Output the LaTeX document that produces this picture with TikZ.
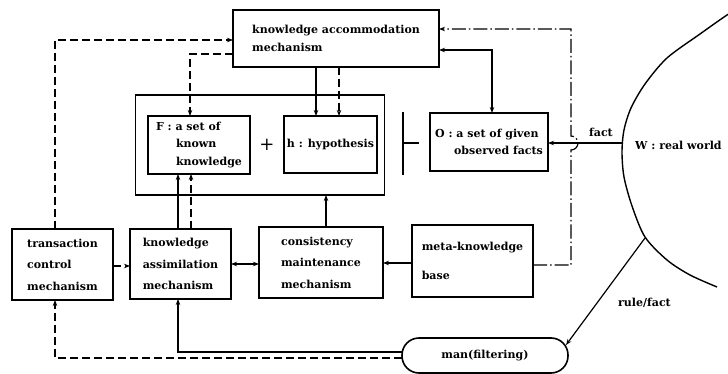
\documentclass[tikz,border=0pt]{standalone}
\usepackage{fontspec}
\setmainfont{DejaVu Serif}
\usetikzlibrary{arrows.meta}
\begin{document}
\begin{tikzpicture}[x=1pt,y=-1pt,
  box/.style={draw, line width=1.6pt, inner sep=0pt, outer sep=0pt, align=left, font=\fontsize{11}{21.5}\selectfont\bfseries},
  arr/.style={line width=1.2pt, -{Stealth[length=6pt,width=4.5pt]}},
  biarr/.style={line width=1.2pt, {Stealth[length=6pt,width=4.5pt]}-{Stealth[length=6pt,width=4.5pt]}},
  dsh/.style={dash pattern=on 8pt off 4pt},
  dshdot/.style={dash pattern=on 14pt off 3pt on 1.5pt off 3pt},
  lbl/.style={inner sep=0pt, font=\fontsize{11}{13}\selectfont\bfseries}]
\clip (0,0) rectangle (728,374);
\fill[white] (0,0) rectangle (728,374);

% boxes
\node[box, minimum width=206pt, minimum height=57pt, font=\fontsize{11}{18}\selectfont\bfseries] (KAM) at (336,38.5) {knowledge accommodation\\mechanism};
\node[box, minimum width=249pt, minimum height=100pt] (kb) at (260,145) {};
\node[box, minimum width=102pt, minimum height=58pt, font=\fontsize{11}{17.5}\selectfont\bfseries] (F) at (199,145) {F : a set of\\\hspace*{20pt}known\\\hspace*{20pt}knowledge};
\node[box, minimum width=93pt, minimum height=57pt] (h) at (330.5,144.5) {h : hypothesis};
\node[lbl, font=\fontsize{18}{20}\selectfont] (plus) at (267,145) {+};
\node[box, minimum width=118pt, minimum height=58pt, font=\fontsize{11}{16.5}\selectfont\bfseries] (O) at (489,142) {O : a set of given\\\hspace*{19pt}observed facts};
\node[box, minimum width=101pt, minimum height=71pt] (TCM) at (62.5,264.5) {transaction\\control\\mechanism};
\node[box, minimum width=101pt, minimum height=70pt] (KAsM) at (180.5,264) {knowledge\\assimilation\\mechanism};
\node[box, minimum width=124pt, minimum height=71pt] (CMM) at (321,262.5) {consistency\\maintenance\\mechanism};
\node[box, minimum width=121pt, minimum height=72pt, font=\fontsize{11}{29}\selectfont\bfseries] (meta) at (472.5,261) {meta-knowledge\\base};
\node[box, rounded corners=17pt, minimum width=166pt, minimum height=35pt] (man) at (485,355.5) {man(filtering)};

% turnstile
\draw[line width=1.8pt] (403,112) -- (403,175);
\draw[line width=1.5pt] (403,143) -- (419,143);

% real world
\draw[line width=1.4pt] plot[smooth, tension=0.5] coordinates {(745,4) (727,15) (700,34) (667,58) (645,84) (631,108) (624,130) (622,152) (624,177) (632,206) (645,237) (667,260) (690,275) (717,287)};
\node[lbl, anchor=west] (W) at (635,145) {W : real world};
\coordinate (wf) at (622,143);
\coordinate (wr) at (645,238);
\coordinate (mr) at (566,345);

% connectors
\draw[arr] (316,0 |- KAM.south) -- (316,0 |- h.north);
\draw[arr, dsh] (339,0 |- KAM.south) -- (339,0 |- h.north);
\draw[biarr] (KAM.east |- 0,50) -- (492,50) -- (492,0 |- O.north);
\draw[arr, dshdot] (meta.east |- 0,265) -- (571,265) -- (571,150) arc[start angle=-90, end angle=90, radius=7pt] -- (571,29) -- (KAM.east |- 0,29);
\draw[arr] (wf) -- (O.east |- wf);
\node[lbl] (factlbl) at (601,132) {fact};
\draw[arr, dsh] (KAM.west |- 0,54) -- (190,54) -- (190,0 |- F.north);
\draw[arr, dsh] (55,0 |- TCM.north) -- (55,40) -- (KAM.west |- 0,40);
\draw[arr] (178,0 |- KAsM.north) -- (178,0 |- F.south);
\draw[arr, dsh] (191,0 |- KAsM.north) -- (191,0 |- F.south);
\draw[arr] (326,0 |- CMM.north) -- (326,0 |- kb.south);
\draw[arr] (meta.west |- 0,263) -- (CMM.east |- 0,263);
\draw[biarr] (KAsM.east |- 0,264) -- (CMM.west |- 0,264);
\draw[arr, dsh] (TCM.east |- 0,266) -- (KAsM.west |- 0,266);
\draw[arr] (man.west |- 0,352) -- (178,352) -- (178,0 |- KAsM.south);
\draw[arr, dsh] (man.west |- 0,358) -- (55,358) -- (55,0 |- TCM.south);
\draw[arr] (wr) -- (mr);
\node[lbl] (rflbl) at (644.5,303) {rule/fact};
\end{tikzpicture}
\end{document}
